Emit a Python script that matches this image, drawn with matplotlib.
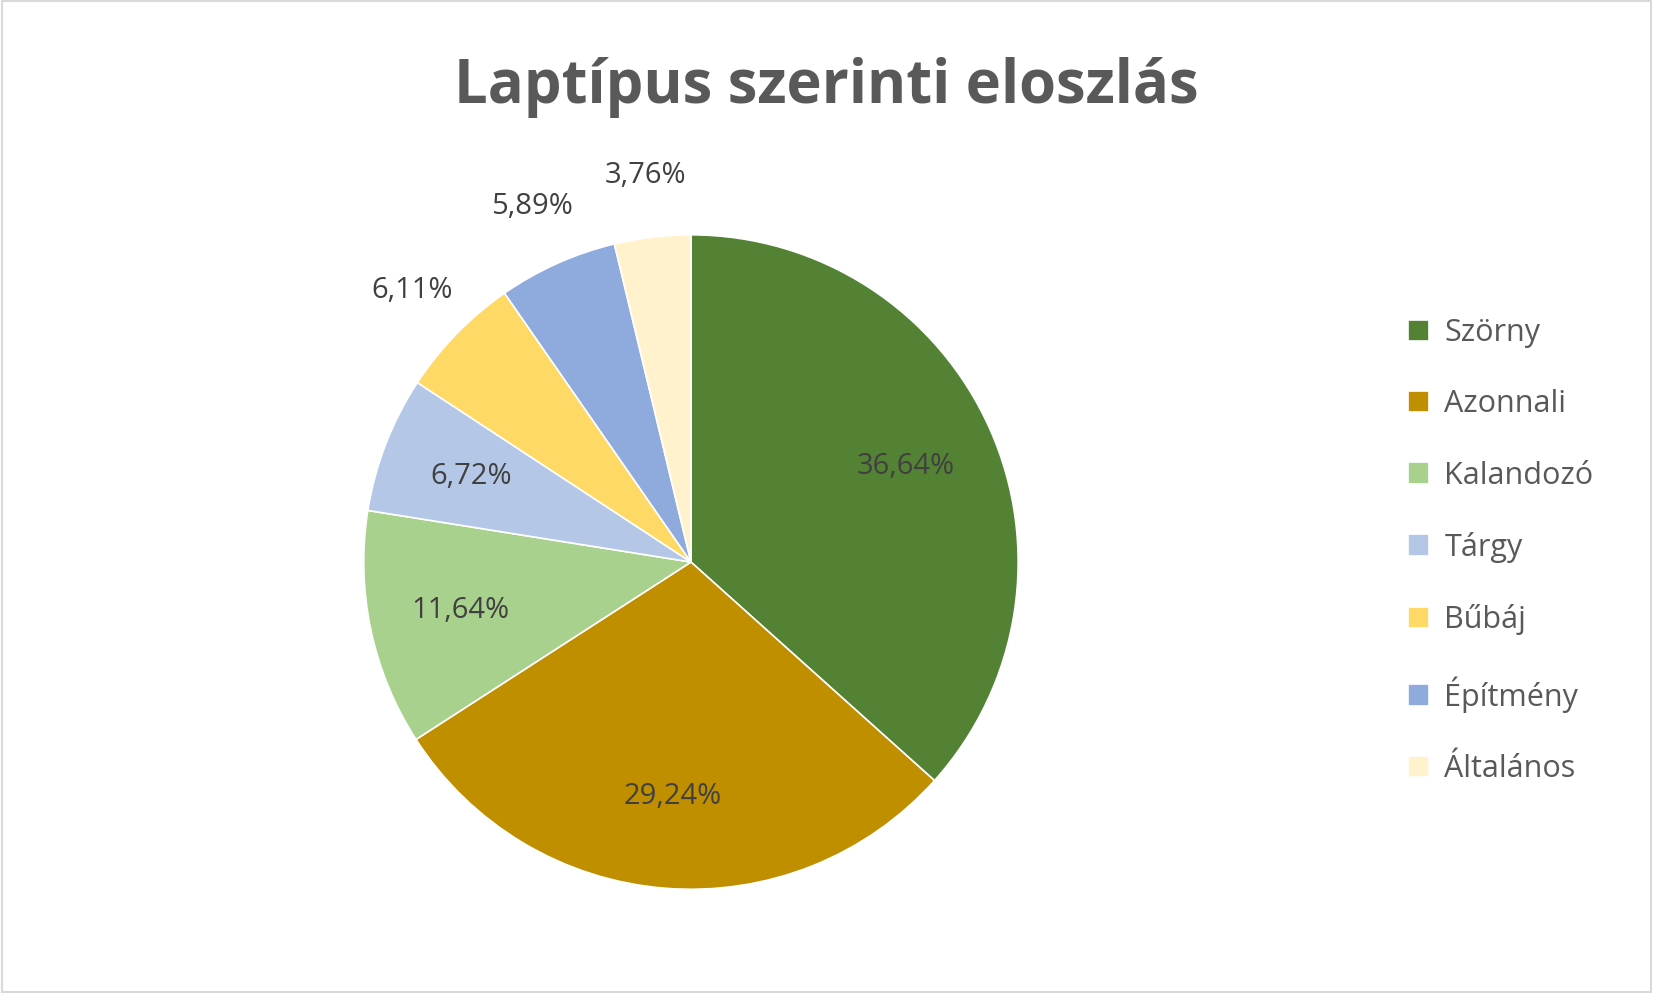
import matplotlib
matplotlib.use('Agg')
import matplotlib.pyplot as plt
import matplotlib.patches as patches
import numpy as np

plt.rcParams['font.family'] = ['Open Sans', 'DejaVu Sans']

categories = ['Szörny', 'Azonnali', 'Kalandozó', 'Tárgy', 'Bűbáj', 'Építmény', 'Általános']
values = [36.64, 29.24, 11.64, 6.72, 6.11, 5.89, 3.76]
labels = ['36,64%', '29,24%', '11,64%', '6,72%', '6,11%', '5,89%', '3,76%']
colors = ['#548235', '#bf8f00', '#a9d18e', '#b4c7e7', '#ffd966', '#8faadc', '#fff2cc']
outside = [False, False, False, False, True, True, True]

fig = plt.figure(figsize=(16.53, 9.93), dpi=100)
fig.patches.append(patches.Rectangle((0.001, 0.001), 0.998, 0.998, transform=fig.transFigure,
                                     fill=False, edgecolor='#d9d9d9', lw=1.5))

ax = fig.add_axes([0.418 - 0.208, 0.434 - 0.346, 0.416, 0.692])
wedges, _ = ax.pie(values, colors=colors, startangle=90, counterclock=False,
                   wedgeprops=dict(edgecolor='white', linewidth=1.2))
for w, lab, out in zip(wedges, labels, outside):
    ang = np.deg2rad((w.theta1 + w.theta2) / 2)
    r = 1.19 if out else 0.72
    ax.text(r * np.cos(ang), r * np.sin(ang), lab, ha='center', va='center',
            fontsize=21, color='#404040')
ax.set_xlim(-1.05, 1.05)
ax.set_ylim(-1.05, 1.05)
ax.set_aspect('equal')
ax.axis('off')

fig.text(0.5, 0.912, 'Laptípus szerinti eloszlás', ha='center', va='center',
         fontsize=43, fontweight='bold', color='#595959')

fig.legend(wedges, categories, loc='center left', bbox_to_anchor=(0.835, 0.445),
           frameon=False, fontsize=22, labelcolor='#595959', handlelength=0.7,
           handleheight=0.7, labelspacing=1.35, handletextpad=0.5)

plt.savefig('out.png', dpi=100)
